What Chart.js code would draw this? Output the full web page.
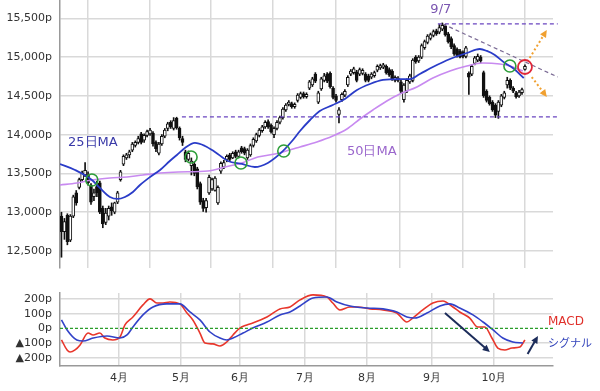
<!DOCTYPE html>
<html><head><meta charset="utf-8">
<script src="https://cdn.jsdelivr.net/npm/chart.js@4.4.0/dist/chart.umd.min.js"></script>
<style>
html,body{margin:0;padding:0;background:#fff;width:600px;height:391px;overflow:hidden}
#main{position:absolute;left:0;top:0}
#macd{position:absolute;left:0;top:283px}
</style></head><body>
<canvas id="main" width="600" height="270"></canvas>
<canvas id="macd" width="600" height="108"></canvas>
<script>
// ---- data (trading-day index = position along the time axis) ----
const monthStartIdx = [20, 41, 61, 83, 104, 126, 147];
const monthLabels   = ['4月','5月','6月','7月','8月','9月','10月'];
const priceTicks    = [12500, 13000, 13500, 14000, 14500, 15000, 15500];
const macdTicks     = [-200, -100, 0, 100, 200];

const opens = [12950,12750,12960,12640,12950,13250,13320,13420,13480,13480,13350,13200,13330,13380,13050,12870,12950,13070,13000,13130,
13420,13620,13700,13740,13800,13860,13900,14010,13930,13990,14010,14020,13900,13760,13880,13980,14080,14160,14080,14210,
14080,13950,13780,13680,13600,13620,13560,13370,13150,13060,13250,13300,13280,13120,13530,13580,13680,13740,13700,13780,
13720,13830,13820,13700,13740,13860,13920,13990,14050,14100,14170,14120,14000,14080,14160,14220,14320,14390,14400,14360,
14440,14480,14530,14490,14600,14640,14780,14420,14590,14700,14780,14790,14600,14500,14260,14450,14510,14640,14780,14800,
14810,14780,14790,14780,14760,14740,14760,14830,14860,14870,14880,14840,14820,14700,14700,14680,14450,14560,14680,14700,
15000,14950,15000,15120,15190,15240,15280,15340,15320,15360,15400,15300,15240,15150,15100,15080,15060,15010,14790,14780,
14920,14960,15000,14800,14560,14480,14420,14380,14300,14380,14480,14640,14700,14600,14540,14500,14540,14840];
const highs = [13000,12920,12980,12970,13220,13280,13440,13530,13640,13520,13370,13300,13400,13400,13080,13050,13080,13120,13130,13270,
13540,13740,13760,13800,13900,13920,13980,14030,14010,14060,14080,14040,13920,13900,14000,14080,14160,14180,14220,14225,
14100,13980,13800,13790,13700,13650,13580,13390,13180,13180,13480,13440,13460,13340,13650,13670,13740,13760,13780,13800,
13800,13850,13840,13820,13880,13960,14020,14080,14120,14180,14190,14140,14100,14180,14240,14350,14400,14440,14420,14410,
14530,14550,14550,14540,14700,14740,14800,14560,14740,14790,14800,14810,14620,14520,14350,14540,14580,14760,14840,14870,
14830,14860,14850,14800,14780,14800,14820,14900,14910,14920,14900,14860,14840,14760,14750,14700,14660,14720,14780,14980,
15020,15020,15170,15220,15290,15310,15350,15360,15420,15440,15420,15320,15260,15170,15120,15100,15080,15140,14810,14900,
15010,15040,15020,14820,14580,14500,14440,14400,14440,14520,14560,14740,14720,14620,14560,14570,14600,14900];
const lows = [12420,12650,12580,12620,12930,13090,13300,13400,13460,13350,13100,13150,13200,12980,12800,12840,12900,12960,12980,13110,
13400,13600,13680,13700,13780,13840,13880,13880,13900,13970,13990,13850,13780,13740,13860,13960,14050,14080,14060,14070,
13930,13860,13650,13660,13480,13470,13300,13100,13010,13000,13230,13280,13270,13100,13500,13560,13650,13660,13690,13700,
13700,13760,13740,13680,13720,13840,13900,13970,14030,14080,14080,14020,13960,14060,14140,14200,14300,14370,14340,14340,
14420,14460,14470,14470,14580,14620,14670,14400,14570,14680,14670,14600,14460,14420,14150,14430,14490,14620,14760,14780,
14680,14760,14770,14680,14680,14720,14740,14810,14840,14850,14780,14750,14700,14680,14680,14540,14420,14540,14660,14680,
14920,14930,14980,15100,15170,15220,15260,15280,15300,15340,15270,15180,15110,15020,15000,14990,14990,14990,14520,14760,
14900,14940,14930,14480,14420,14380,14300,14220,14210,14360,14460,14600,14580,14540,14470,14480,14520,14830];
const closes = [12750,12880,12620,12950,13200,13120,13420,13500,13540,13380,13130,13250,13250,13000,12850,12990,13050,13020,13120,13250,
13520,13720,13740,13780,13880,13900,13950,13900,13990,14040,14060,13880,13820,13880,13980,14060,14140,14100,14180,14090,
13960,13900,13680,13760,13660,13500,13330,13130,13050,13150,13450,13420,13440,13320,13630,13640,13720,13680,13760,13720,
13780,13780,13760,13800,13860,13940,14000,14060,14100,14160,14100,14040,14080,14160,14220,14330,14380,14420,14360,14390,
14510,14530,14490,14520,14680,14720,14690,14540,14720,14760,14690,14620,14480,14440,14320,14520,14560,14740,14820,14850,
14700,14840,14830,14700,14700,14780,14800,14880,14890,14900,14800,14770,14720,14740,14730,14560,14640,14700,14760,14960,
14940,15000,15150,15200,15270,15290,15330,15300,15380,15410,15290,15200,15130,15040,15020,15000,15010,15120,14740,14880,
14990,15010,14950,14500,14440,14400,14320,14250,14420,14500,14540,14700,14600,14560,14490,14550,14580,14880];

// moving averages: [day index, price]
const ma25 = [[-0.5,13622],[4.6,13545],[10.3,13416],[13.0,13313],[16.4,13197],[19.1,13171],[21.5,13197],[24.2,13261],[26.6,13351],
[30.0,13454],[33.4,13545],[36.7,13661],[39.1,13738],[41.8,13828],[45.2,13893],[48.6,13854],[52.0,13777],[56.4,13661],[61.1,13622],
[65.5,13583],[69.9,13635],[74.7,13777],[78.4,13931],[80.8,14047],[84.2,14189],[87.5,14305],[91.9,14382],[96.0,14460],[100.1,14576],
[104.5,14653],[108.9,14705],[114.6,14717],[118.0,14717],[121.4,14782],[125.8,14872],[131.6,14975],[137.3,15053],[141.7,15104],
[144.1,15079],[146.8,15027],[150.2,14924],[152.9,14859],[156.6,14730]];
const ma50 = [[-0.5,13351],[5.2,13377],[10.3,13416],[16.4,13442],[22.2,13454],[27.6,13480],[33.4,13506],[39.5,13519],[49.6,13532],
[55.4,13583],[61.1,13635],[66.5,13712],[72.3,13751],[75.0,13777],[80.8,13841],[86.5,13906],[91.9,13983],[96.7,14073],[101.1,14202],
[105.5,14318],[110.2,14434],[114.6,14524],[120.4,14615],[125.8,14730],[131.6,14821],[137.3,14885],[142.7,14924],[148.5,14911],
[151.9,14885],[156.3,14821]];

// MACD panel: [day index, value]
const macdLine = [[0,-78],[1.9,-146],[2.9,-160],[4.6,-146],[6.3,-112],[9.0,-31],[10.7,-44],[13.0,-31],[14.7,-65],[17.4,-78],
[19.8,-58],[21.5,24],[24.2,78],[27.6,160],[30.0,201],[32.3,173],[34.4,173],[36.7,180],[40.1,167],[42.5,105],[44.5,58],[46.9,-31],
[48.6,-99],[51.3,-105],[53.7,-119],[56.0,-92],[58.1,-44],[60.4,3],[62.8,24],[64.8,37],[69.6,78],[74.0,133],[77.4,146],[80.8,194],
[85.2,228],[89.9,214],[91.9,173],[94.3,126],[97.7,146],[100.4,146],[104.5,133],[108.9,126],[113.6,105],[117.0,44],[119.0,71],
[122.4,126],[125.8,173],[129.2,187],[132.6,146],[134.9,112],[138.3,71],[141.0,10],[143.4,10],[145.8,-65],[147.8,-133],[150.2,-146],
[152.6,-133],[155.3,-126],[157.0,-78]];
const signalLine = [[0,58],[1.9,-10],[5.2,-78],[7.3,-85],[10.7,-65],[15.4,-51],[19.8,-65],[22.2,-44],[24.2,10],[27.6,92],[31.0,146],
[35.7,167],[40.1,167],[43.5,112],[46.9,58],[50.3,-24],[53.7,-65],[56.0,-78],[58.1,-65],[61.5,-31],[64.8,3],[69.6,44],[74.0,92],
[77.4,112],[80.8,153],[85.2,207],[89.9,214],[93.3,180],[97.7,153],[103.5,139],[108.9,133],[113.6,112],[117.0,78],[119.7,71],
[123.8,105],[128.2,153],[131.6,167],[134.9,139],[139.4,92],[142.8,44],[146.2,-10],[149.5,-65],[152.9,-92],[156.3,-99]];

// annotations (data coordinates)
const supportLevel = {from:40.8, to:168.1, value:14228};
const peakLevel    = {from:127.5, to:168.1, value:15427};
const trendLine    = [[129.2,15427],[168.1,14743]];
const crossMarks   = [[10.3,13416],[43.9,13712],[60.8,13635],[75.3,13790],[151.9,14885]];
const watchMark    = [157,14872];
const forkArrows   = [[[158.6,14988],[164.4,15349]],[[159.3,14743],[164.4,14486]]];
const macdArrows   = [[[129.9,105],[145.1,-160]],[[157.9,-173],[161.4,-51]]];

// ---- drawing ----
const FONT = "'DejaVu Sans', Verdana, sans-serif";
const GRID = '#d9d9d9';
const days = opens.map((_, i) => i);
const bodies = days.map(i => ({x:i, y:[opens[i], closes[i]]}));
const wicks  = days.map(i => ({x:i, y:[lows[i], highs[i]]}));
const bodyColors = days.map(i => closes[i] >= opens[i] ? '#ffffff' : '#111111');
const pts = arr => arr.map(([x, y]) => ({x, y}));
const monthTickValues = monthStartIdx.map(v => v - 0.5);
const fixV = w => s => { s.width = w; s.paddingTop = 0; s.paddingBottom = 0; };
const fixH = h => s => { s.height = h; s.paddingLeft = 0; s.paddingRight = 0; };

function arrow(ctx, x1, y1, x2, y2, color, width, dash, head) {
  ctx.save();
  ctx.strokeStyle = color; ctx.fillStyle = color; ctx.lineWidth = width;
  ctx.setLineDash(dash);
  const a = Math.atan2(y2 - y1, x2 - x1);
  ctx.beginPath(); ctx.moveTo(x1, y1);
  ctx.lineTo(x2 - Math.cos(a) * head * 0.8, y2 - Math.sin(a) * head * 0.8); ctx.stroke();
  ctx.setLineDash([]);
  ctx.beginPath(); ctx.moveTo(x2, y2);
  ctx.lineTo(x2 - head * Math.cos(a - 0.45), y2 - head * Math.sin(a - 0.45));
  ctx.lineTo(x2 - head * Math.cos(a + 0.45), y2 - head * Math.sin(a + 0.45));
  ctx.closePath(); ctx.fill();
  ctx.restore();
}

const mainAnnot = {
  id: 'mainAnnot',
  afterDatasetsDraw(chart) {
    const {ctx, scales:{x, y}} = chart;
    const X = v => x.getPixelForValue(v), Y = v => y.getPixelForValue(v);
    ctx.save();
    ctx.lineWidth = 1.2; ctx.setLineDash([4, 3]); ctx.strokeStyle = '#6a45c0';
    for (const l of [supportLevel, peakLevel]) {
      ctx.beginPath(); ctx.moveTo(X(l.from), Y(l.value)); ctx.lineTo(X(l.to), Y(l.value)); ctx.stroke();
    }
    ctx.strokeStyle = '#7b6b95';
    ctx.beginPath(); ctx.moveTo(X(trendLine[0][0]), Y(trendLine[0][1]));
    ctx.lineTo(X(trendLine[1][0]), Y(trendLine[1][1])); ctx.stroke();
    ctx.setLineDash([]);
    ctx.strokeStyle = '#2e9e3a'; ctx.lineWidth = 1.6;
    for (const [i, p] of crossMarks) {
      ctx.beginPath(); ctx.arc(X(i), Y(p), 6, 0, Math.PI * 2); ctx.stroke();
    }
    ctx.strokeStyle = '#e0283a'; ctx.lineWidth = 1.8;
    ctx.beginPath(); ctx.arc(X(watchMark[0]), Y(watchMark[1]), 7, 0, Math.PI * 2); ctx.stroke();
    for (const [[a, b], [c, d]] of forkArrows) arrow(ctx, X(a), Y(b), X(c), Y(d), '#f0a030', 2, [2, 2.5], 8);
    ctx.textBaseline = 'middle';
    ctx.font = "13px " + FONT;
    ctx.fillStyle = '#3a3aa8'; ctx.textAlign = 'left';
    ctx.fillText('25日MA', X(2.2), Y(13893));
    ctx.fillStyle = '#9a66cc';
    ctx.fillText('50日MA', X(96.7), Y(13777));
    ctx.fillStyle = '#7a55b0'; ctx.textAlign = 'center';
    ctx.fillText('9/7', X(128.5), Y(15607));
    ctx.restore();
  }
};

new Chart(document.getElementById('main'), {
  type: 'bar',
  data: {datasets: [
    {type:'line', data: pts(ma25), borderColor:'#2a3cc8', borderWidth:1.8, pointRadius:0, cubicInterpolationMode:'monotone', order:0},
    {type:'line', data: pts(ma50), borderColor:'#c88af0', borderWidth:1.6, pointRadius:0, cubicInterpolationMode:'monotone', order:0},
    {data: bodies, backgroundColor: bodyColors, borderColor:'#111', borderWidth:1, borderSkipped:false, barThickness:3, grouped:false, order:1},
    {data: wicks, backgroundColor:'#111', borderWidth:0, barThickness:1, grouped:false, order:2}
  ]},
  options: {
    responsive:false, animation:false, devicePixelRatio:1,
    layout:{padding:{left:0, right:47, top:0, bottom:2}},
    plugins:{legend:{display:false}, tooltip:{enabled:false}},
    scales:{
      x:{type:'linear', min:-0.5, max:166.5, offset:false,
         afterBuildTicks: s => { s.ticks = monthTickValues.map(v => ({value:v})); },
         ticks:{display:false}, grid:{color:GRID, lineWidth:1.5, drawTicks:false}, border:{display:false},
         afterFit: fixH(0)},
      y:{min:12281, max:15736,
         afterBuildTicks: s => { s.ticks = priceTicks.map(v => ({value:v})); },
         ticks:{callback: v => v.toLocaleString('en-US') + 'p', font:{family:FONT, size:11}, color:'#333', padding:8},
         grid:{color:GRID, lineWidth:1.5, drawTicks:false}, border:{color:'#999', width:1.5},
         afterFit: fixV(60)}
    }
  },
  plugins:[mainAnnot]
});

const macdAnnot = {
  id: 'macdAnnot',
  afterDraw(chart) {
    const {ctx, scales:{x, y}} = chart;
    const X = v => x.getPixelForValue(v), Y = v => y.getPixelForValue(v);
    for (const [[a, b], [c, d]] of macdArrows) arrow(ctx, X(a), Y(b), X(c), Y(d), '#1c2c5a', 2, [], 8);
    ctx.save();
    ctx.textBaseline = 'middle'; ctx.textAlign = 'left';
    ctx.font = "12px " + FONT; ctx.fillStyle = '#e0302a';
    ctx.fillText('MACD', X(164.8), Y(44));
    ctx.font = "11px 'Noto Sans CJK JP', sans-serif"; ctx.fillStyle = '#3344bb';
    ctx.fillText('シグナル', X(164.8), Y(-99));
    ctx.restore();
  }
};

new Chart(document.getElementById('macd'), {
  type: 'line',
  data: {datasets: [
    {data: [{x:-0.5, y:0}, {x:166.5, y:0}], borderColor:'#2a9d2a', borderDash:[3, 2], borderWidth:1.2, pointRadius:0},
    {data: pts(signalLine), borderColor:'#3242c8', borderWidth:1.6, pointRadius:0, cubicInterpolationMode:'monotone'},
    {data: pts(macdLine), borderColor:'#e8362b', borderWidth:1.6, pointRadius:0, cubicInterpolationMode:'monotone'}
  ]},
  options: {
    responsive:false, animation:false, devicePixelRatio:1,
    layout:{padding:{left:0, right:47, top:10, bottom:0}},
    plugins:{legend:{display:false}, tooltip:{enabled:false}},
    scales:{
      x:{type:'linear', min:-0.5, max:166.5, offset:false,
         afterBuildTicks: s => { s.ticks = monthTickValues.map(v => ({value:v})); },
         ticks:{autoSkip:false, maxRotation:0, padding:6, font:{family:FONT, size:11}, color:'#333',
                callback: v => monthLabels[monthTickValues.indexOf(v)]},
         grid:{color:GRID, lineWidth:1.5, drawTicks:false}, border:{color:'#999', width:1.5},
         afterFit: fixH(25)},
      y:{min:-255, max:241,
         afterBuildTicks: s => { s.ticks = macdTicks.map(v => ({value:v})); },
         ticks:{callback: v => (v < 0 ? '▲' + (-v) : v) + 'p', font:{family:FONT, size:11}, color:'#333', padding:8},
         grid:{color: c => (c.tick && c.tick.value === 0) ? 'rgba(0,0,0,0)' : GRID, lineWidth:1.5, drawTicks:false},
         border:{color:'#999', width:1.5},
         afterFit: fixV(60)}
    }
  },
  plugins:[macdAnnot]
});
</script>
</body></html>
